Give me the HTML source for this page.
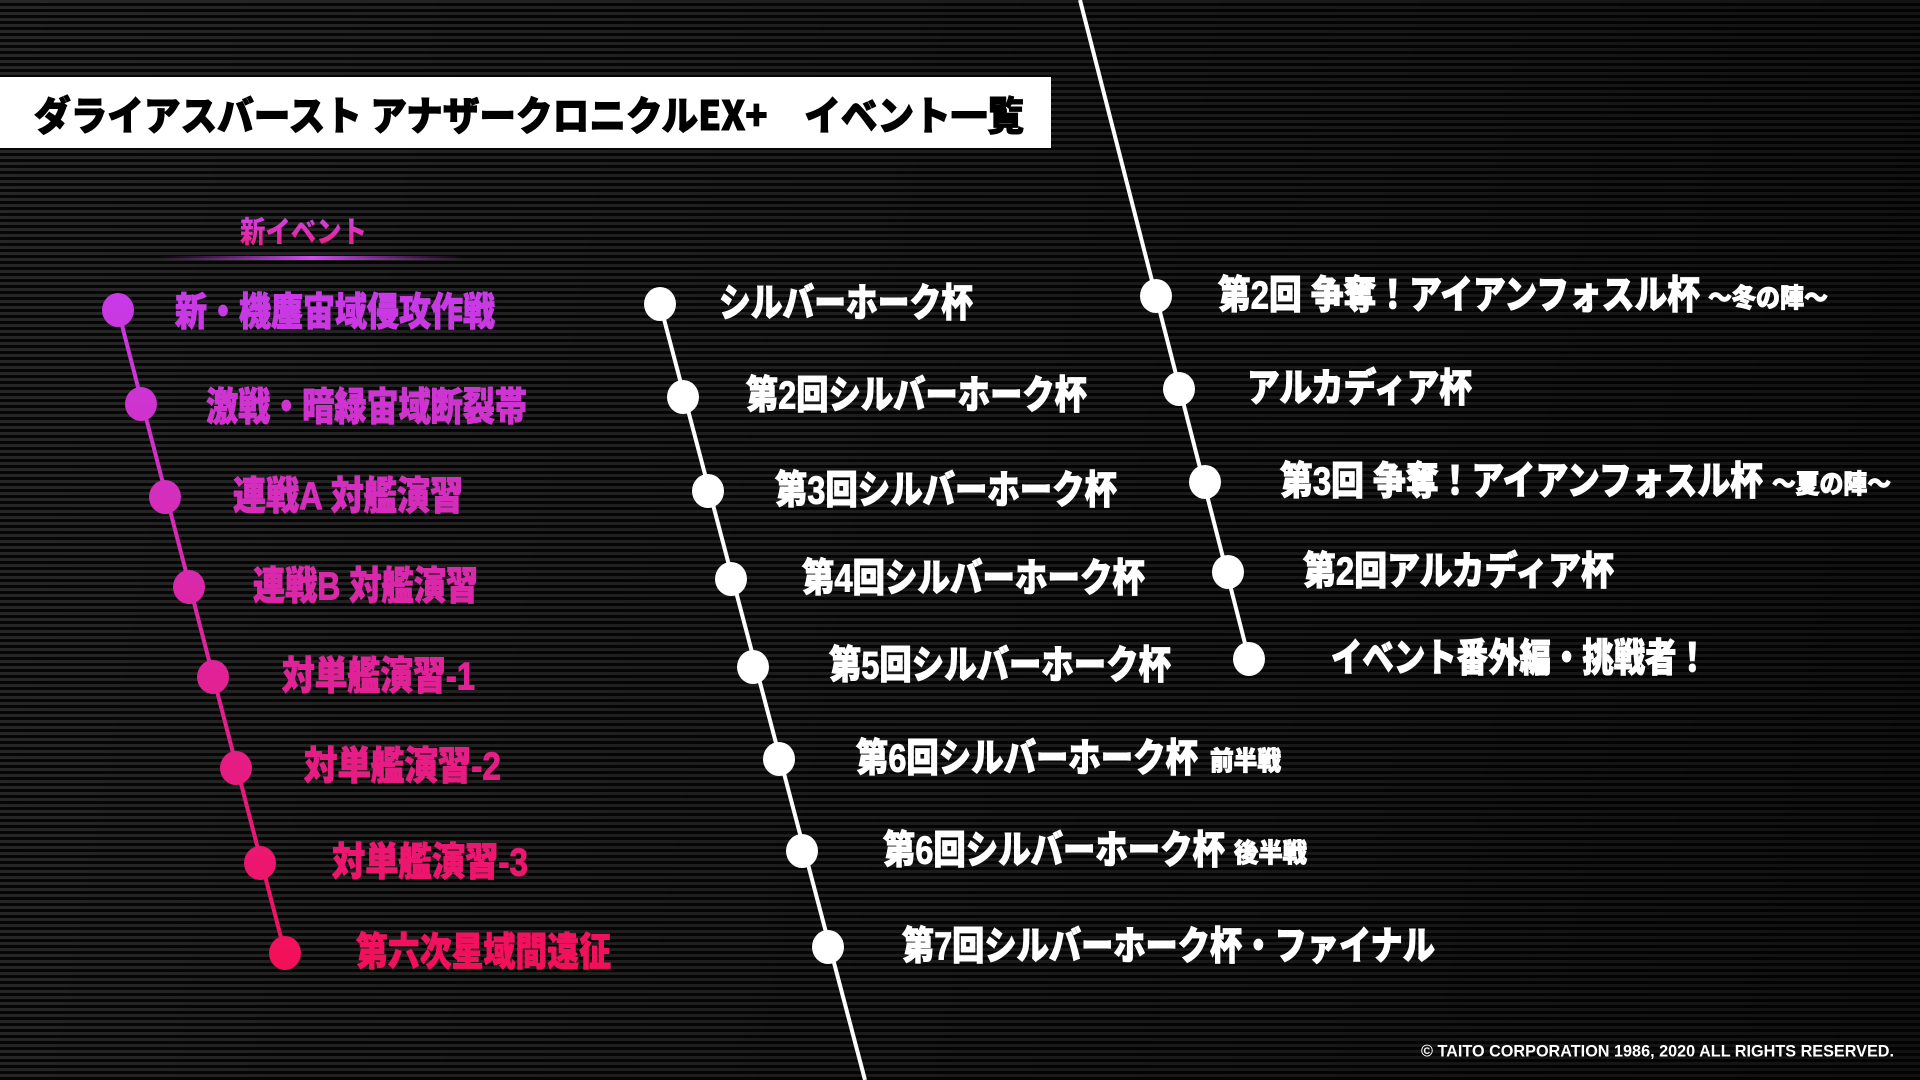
<!DOCTYPE html>
<html><head><meta charset="utf-8"><style>
html,body{margin:0;padding:0;width:1920px;height:1080px;overflow:hidden;background:#000}
.bg{position:absolute;left:0;top:0;width:1920px;height:1080px;
background:repeating-linear-gradient(180deg,#272727 0px,#272727 3px,#060606 3px,#060606 6px);}
.shade{position:absolute;left:0;top:0;width:1920px;height:1080px;
background:linear-gradient(100deg,rgba(0,0,0,0.0) 0%,rgba(0,0,0,0.25) 45%,rgba(0,0,0,0.55) 100%);}
svg{position:absolute;left:0;top:0}
text{font-family:"Liberation Sans","Noto Sans CJK JP",sans-serif;font-weight:900;dominant-baseline:central}
.t{font-family:"Noto Sans CJK JP",sans-serif}
</style></head><body>
<div class="bg"></div><div class="shade"></div>
<svg width="1920" height="1080" viewBox="0 0 1920 1080">
<defs>
<linearGradient id="mg" x1="0" y1="300" x2="0" y2="960" gradientUnits="userSpaceOnUse">
<stop offset="0" stop-color="#c83ae6"/><stop offset="1" stop-color="#f2105a"/></linearGradient>
<linearGradient id="ul" x1="159" y1="0" x2="465" y2="0" gradientUnits="userSpaceOnUse">
<stop offset="0" stop-color="#b030d0" stop-opacity="0"/><stop offset="0.5" stop-color="#d050f0"/><stop offset="1" stop-color="#b030d0" stop-opacity="0"/></linearGradient>
<linearGradient id="hd" x1="0" y1="220" x2="0" y2="250" gradientUnits="userSpaceOnUse">
<stop offset="0" stop-color="#d040e0"/><stop offset="1" stop-color="#f01870"/></linearGradient>
</defs>
<rect x="0" y="77" width="1051" height="71" fill="#fff"/>
<text class="t" x="34" y="113" font-size="40" fill="#000" stroke="#000" stroke-width="1" textLength="990" lengthAdjust="spacingAndGlyphs">ダライアスバースト アナザークロニクルEX+　イベント一覧</text>
<text x="240" y="233" font-size="30" fill="url(#hd)" textLength="127" lengthAdjust="spacingAndGlyphs">新イベント</text>
<rect x="159" y="256" width="306" height="4" fill="url(#ul)"/>
<line x1="118" y1="310" x2="285" y2="953" stroke="url(#mg)" stroke-width="4"/>
<line x1="660" y1="304" x2="865" y2="1080" stroke="#fff" stroke-width="4"/>
<line x1="1080" y1="0" x2="1249" y2="659" stroke="#fff" stroke-width="4"/>
<g fill="url(#mg)">
<ellipse cx="118" cy="310" rx="16" ry="17"/><ellipse cx="141" cy="404" rx="16" ry="17"/>
<ellipse cx="165" cy="497" rx="16" ry="17"/><ellipse cx="189" cy="587" rx="16" ry="17"/>
<ellipse cx="213" cy="677" rx="16" ry="17"/><ellipse cx="236" cy="768" rx="16" ry="17"/>
<ellipse cx="260" cy="863" rx="16" ry="17"/><ellipse cx="285" cy="953" rx="16" ry="17"/>
</g>
<g fill="url(#mg)" stroke="url(#mg)" stroke-width="1" font-size="39">
<text x="175" y="313" textLength="320" lengthAdjust="spacingAndGlyphs">新・機塵宙域侵攻作戦</text>
<text x="206" y="408" textLength="321" lengthAdjust="spacingAndGlyphs">激戦・暗緑宙域断裂帯</text>
<text x="233" y="497" textLength="230" lengthAdjust="spacingAndGlyphs">連戦A 対艦演習</text>
<text x="253" y="587" textLength="225" lengthAdjust="spacingAndGlyphs">連戦B 対艦演習</text>
<text x="282" y="677" textLength="193" lengthAdjust="spacingAndGlyphs">対単艦演習-1</text>
<text x="304" y="767" textLength="197" lengthAdjust="spacingAndGlyphs">対単艦演習-2</text>
<text x="332" y="863" textLength="196" lengthAdjust="spacingAndGlyphs">対単艦演習-3</text>
<text x="356" y="953" textLength="255" lengthAdjust="spacingAndGlyphs">第六次星域間遠征</text>
</g>
<g fill="#fff">
<ellipse cx="660" cy="304" rx="16" ry="17"/><ellipse cx="683" cy="397" rx="16" ry="17"/>
<ellipse cx="708" cy="491" rx="16" ry="17"/><ellipse cx="731" cy="579" rx="16" ry="17"/>
<ellipse cx="753" cy="667" rx="16" ry="17"/><ellipse cx="779" cy="759" rx="16" ry="17"/>
<ellipse cx="802" cy="851" rx="16" ry="17"/><ellipse cx="828" cy="947" rx="16" ry="17"/>
<ellipse cx="1156" cy="296" rx="16" ry="17"/><ellipse cx="1179" cy="389" rx="16" ry="17"/>
<ellipse cx="1205" cy="482" rx="16" ry="17"/><ellipse cx="1228" cy="572" rx="16" ry="17"/>
<ellipse cx="1249" cy="659" rx="16" ry="17"/>
</g>
<g fill="#fff" stroke="#fff" stroke-width="1" font-size="39">
<text x="719" y="304" textLength="254" lengthAdjust="spacingAndGlyphs">シルバーホーク杯</text>
<text x="746" y="396" textLength="341" lengthAdjust="spacingAndGlyphs">第2回シルバーホーク杯</text>
<text x="775" y="491" textLength="342" lengthAdjust="spacingAndGlyphs">第3回シルバーホーク杯</text>
<text x="802" y="579" textLength="343" lengthAdjust="spacingAndGlyphs">第4回シルバーホーク杯</text>
<text x="829" y="666" textLength="342" lengthAdjust="spacingAndGlyphs">第5回シルバーホーク杯</text>
<text x="856" y="759" textLength="342" lengthAdjust="spacingAndGlyphs">第6回シルバーホーク杯</text>
<text x="1210" y="761" font-size="26" textLength="71" lengthAdjust="spacingAndGlyphs">前半戦</text>
<text x="883" y="851" textLength="342" lengthAdjust="spacingAndGlyphs">第6回シルバーホーク杯</text>
<text x="1234" y="853" font-size="26" textLength="73" lengthAdjust="spacingAndGlyphs">後半戦</text>
<text x="902" y="947" textLength="533" lengthAdjust="spacingAndGlyphs">第7回シルバーホーク杯・ファイナル</text>
<text x="1218" y="296" textLength="482" lengthAdjust="spacingAndGlyphs">第2回 争奪！アイアンフォスル杯</text>
<text x="1708" y="298" font-size="26" textLength="120" lengthAdjust="spacingAndGlyphs">～冬の陣～</text>
<text x="1247" y="389" textLength="225" lengthAdjust="spacingAndGlyphs">アルカディア杯</text>
<text x="1280" y="482" textLength="483" lengthAdjust="spacingAndGlyphs">第3回 争奪！アイアンフォスル杯</text>
<text x="1772" y="484" font-size="26" textLength="119" lengthAdjust="spacingAndGlyphs">～夏の陣～</text>
<text x="1303" y="572" textLength="311" lengthAdjust="spacingAndGlyphs">第2回アルカディア杯</text>
<text x="1331" y="659" textLength="377" lengthAdjust="spacingAndGlyphs">イベント番外編・挑戦者！</text>
</g>
<text x="1421" y="1051" font-size="17" fill="#fff" font-weight="700" textLength="473" lengthAdjust="spacingAndGlyphs">© TAITO CORPORATION 1986, 2020 ALL RIGHTS RESERVED.</text>
</svg>
</body></html>
